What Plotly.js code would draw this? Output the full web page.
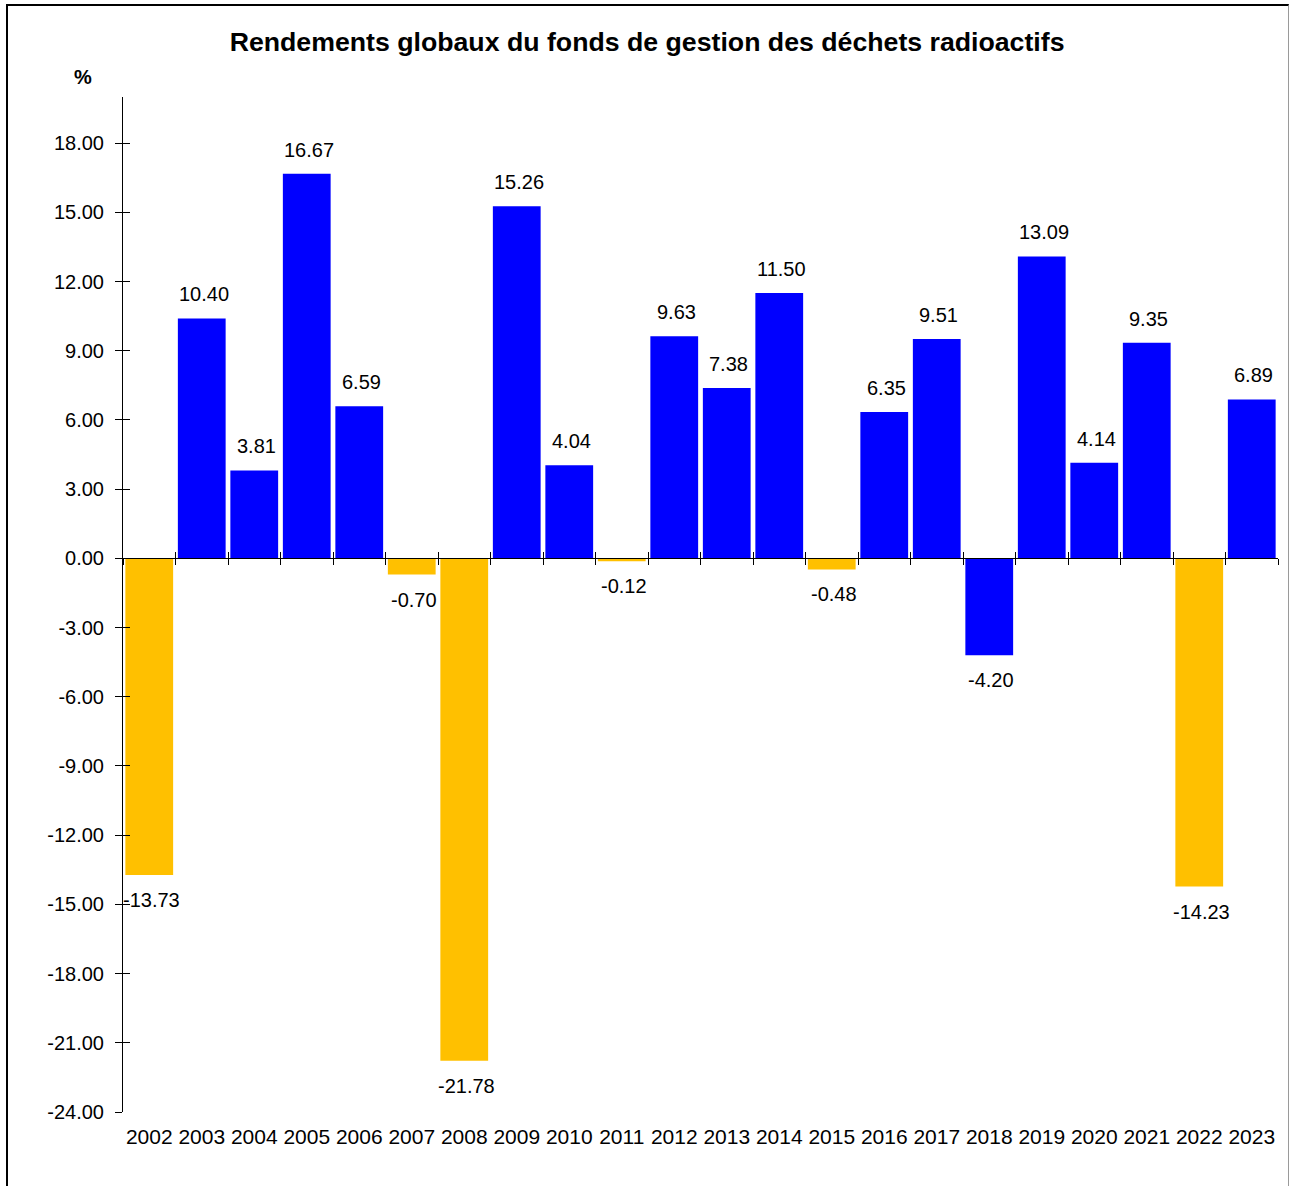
<!DOCTYPE html>
<html>
<head>
<meta charset="utf-8">
<script src="https://cdn.plot.ly/plotly-3.0.1.min.js"></script>
<style>
html,body{margin:0;padding:0;background:#fff;}
#wrap{position:relative;width:1289px;height:1186px;overflow:hidden;}
#chart{position:absolute;left:0;top:0;width:1289px;height:1186px;}
#frame{position:absolute;left:6px;top:4px;width:1280px;height:1200px;border-top:2px solid #000;border-left:2px solid #000;border-right:1px solid #9a9a9a;pointer-events:none;}
</style>
</head>
<body>
<div id="wrap"><div id="chart"></div><div id="frame"></div></div>
<script>
const years = ['2002','2003','2004','2005','2006','2007','2008','2009','2010','2011','2012','2013','2014','2015','2016','2017','2018','2019','2020','2021','2022','2023'];
const returns = [-13.73,10.40,3.81,16.67,6.59,-0.70,-21.78,15.26,4.04,-0.12,9.63,7.38,11.50,-0.48,6.35,9.51,-4.20,13.09,4.14,9.35,-14.23,6.89];
const barColors = ['#FFC000','#0000FF','#0000FF','#0000FF','#0000FF','#FFC000','#FFC000','#0000FF','#0000FF','#FFC000','#0000FF','#0000FF','#0000FF','#FFC000','#0000FF','#0000FF','#0000FF','#0000FF','#0000FF','#0000FF','#FFC000','#0000FF'];
const yTickVals = [-24,-21,-18,-15,-12,-9,-6,-3,0,3,6,9,12,15,18];
const yTickText = yTickVals.map(v => v.toFixed(2));
const yMin = -24, yMax = 20;

const FONT = 'Liberation Sans, Arial, sans-serif';
const xRange = [-0.5, years.length - 0.5];
const zeroPos = (0 - yMin) / (yMax - yMin);

const ghost = (xa, ya) => ({type:'scatter', mode:'markers', x:years, y:returns, marker:{size:1, opacity:0}, hoverinfo:'skip', xaxis:xa, yaxis:ya, showlegend:false});

const traces = [
  {type:'bar', x:years, y:returns, marker:{color:barColors, line:{width:0}}, hoverinfo:'x+y', xaxis:'x', yaxis:'y'},
  ghost('x2','y'),
  ghost('x3','y'),
  ghost('x','y2')
];

// category axis: annotation x is the category index
const annotations = returns.map((v,i) => ({
  x: i, y: v, xref:'x', yref:'y',
  text: v.toFixed(2), showarrow:false,
  yanchor: v >= 0 ? 'bottom' : 'top',
  yshift: v >= 0 ? 11 : -12,
  xshift: 2,
  font:{family:FONT, size:20, color:'#000'}
}));
annotations.push({
  xref:'paper', yref:'paper', x:-0.0346, y:1.02, xanchor:'center', yanchor:'middle',
  text:'<b>%</b>', showarrow:false, font:{family:FONT, size:20, color:'#000'}
});

const layout = {
  width:1289, height:1186,
  paper_bgcolor:'#fff', plot_bgcolor:'#fff',
  margin:{l:123, r:11, t:97, b:74},
  showlegend:false,
  bargap:0.09,
  title:{text:'<b>Rendements globaux du fonds de gestion des déchets radioactifs</b>',
         font:{family:FONT, size:26.7, color:'#000'},
         xref:'container', x:0.502, xanchor:'center', yref:'container', y:1-42/1186, yanchor:'middle'},
  font:{family:FONT, size:20, color:'#000'},
  xaxis:{type:'category', range:xRange, anchor:'free', position:zeroPos, side:'bottom',
         showline:true, linecolor:'#000', linewidth:1, ticks:'outside', tickson:'boundaries', ticklen:6, tickcolor:'#000',
         showticklabels:false, showgrid:false, zeroline:false},
  xaxis2:{type:'category', range:xRange, overlaying:'x', anchor:'y', side:'bottom', showline:false, ticks:'',
          showgrid:false, zeroline:false, tickfont:{family:FONT, size:21, color:'#000'}, ticklabelstandoff:10},
  xaxis3:{type:'category', range:xRange, overlaying:'x', anchor:'free', position:zeroPos, side:'bottom',
          showline:false, ticks:'inside', tickson:'boundaries', ticklen:6, tickcolor:'#000',
          showticklabels:false, showgrid:false, zeroline:false},
  yaxis:{range:[yMin,yMax], tickvals:yTickVals, ticktext:yTickText, showline:true, linecolor:'#000', linewidth:1,
         ticks:'outside', ticklen:7, tickcolor:'#000', showgrid:false, zeroline:false,
         tickfont:{family:FONT, size:20, color:'#000'}, ticklabelstandoff:7},
  yaxis2:{range:[yMin,yMax], overlaying:'y', side:'left', anchor:'x', ticks:'inside', ticklen:7, tickcolor:'#000',
          tickvals:yTickVals, showticklabels:false, showline:false, showgrid:false, zeroline:false},
  annotations:annotations
};

Plotly.newPlot('chart', traces, layout, {displayModeBar:false});
</script>
</body>
</html>
